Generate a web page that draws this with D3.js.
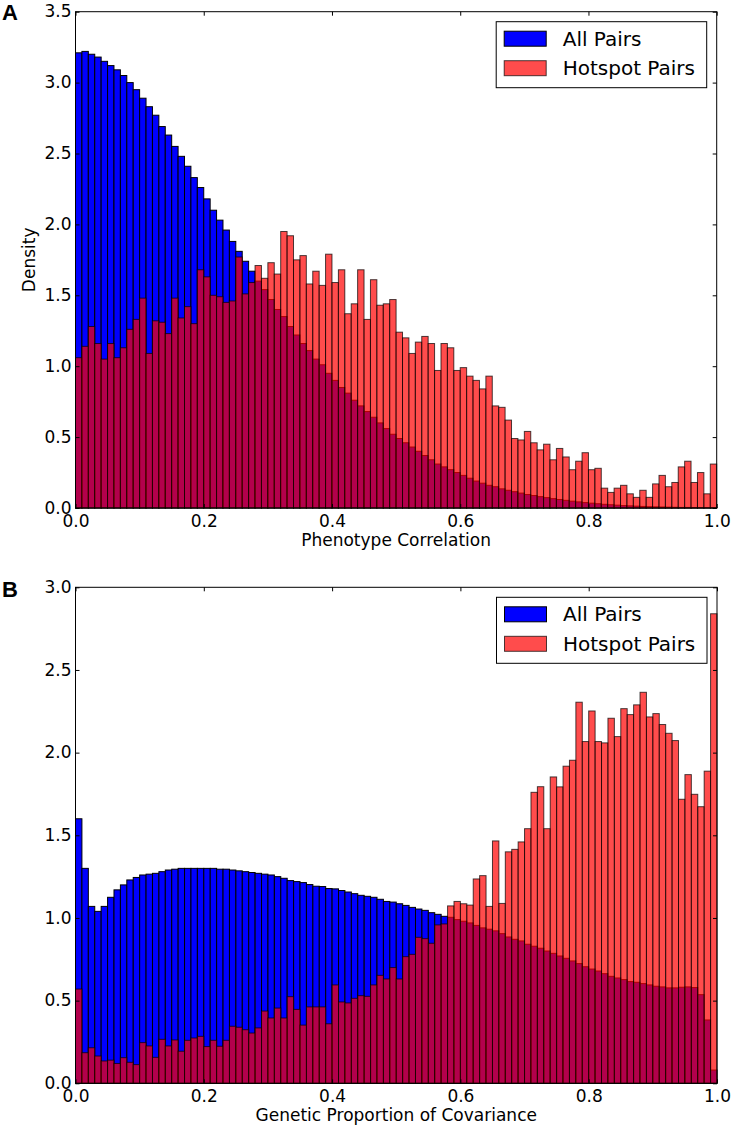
<!DOCTYPE html>
<html>
<head>
<meta charset="utf-8">
<script src="https://cdn.jsdelivr.net/npm/d3@7"></script>
<style>
  html, body { margin: 0; padding: 0; background: #fff; }
  svg { display: block; }
  text { font-family: "DejaVu Sans", sans-serif; fill: #000; }
</style>
</head>
<body>
<svg id="chart" width="733" height="1128"></svg>
<script>
// ---------------- DATA ----------------
const seriesNames = ["All Pairs", "Hotspot Pairs"];
const binWidth = 0.01;
const binLefts = d3.range(100).map(i => +(i * binWidth).toFixed(2));

// Panel A: Phenotype Correlation densities
const phenoAll = [
  3.21, 3.22, 3.20, 3.18, 3.15, 3.12, 3.09, 3.05, 3.00, 2.95,
  2.89, 2.83, 2.77, 2.69, 2.63, 2.55, 2.48, 2.41, 2.33, 2.26,
  2.18, 2.10, 2.03, 1.96, 1.88, 1.81, 1.74, 1.67, 1.60, 1.54,
  1.47, 1.40, 1.35, 1.28, 1.22, 1.16, 1.11, 1.05, 1.01, 0.95,
  0.90, 0.85, 0.81, 0.76, 0.72, 0.68, 0.64, 0.60, 0.56, 0.52,
  0.49, 0.46, 0.43, 0.40, 0.37, 0.34, 0.31, 0.29, 0.27, 0.25,
  0.23, 0.21, 0.19, 0.175, 0.16, 0.15, 0.135, 0.125, 0.115, 0.105,
  0.095, 0.088, 0.08, 0.073, 0.066, 0.06, 0.054, 0.048, 0.043, 0.038,
  0.034, 0.030, 0.026, 0.023, 0.020, 0.017, 0.015, 0.013, 0.011, 0.009,
  0.008, 0.007, 0.006, 0.005, 0.004, 0.004, 0.003, 0.003, 0.002, 0.002
];
const phenoHotspot = [
  1.06, 1.14, 1.28, 1.16, 1.05, 1.16, 1.06, 1.13, 1.26, 1.33,
  1.48, 1.09, 1.32, 1.31, 1.23, 1.48, 1.34, 1.42, 1.30, 1.68,
  1.63, 1.50, 1.49, 1.45, 1.46, 1.77, 1.51, 1.59, 1.71, 1.62,
  1.73, 1.65, 1.95, 1.92, 1.75, 1.78, 1.58, 1.67, 1.57, 1.79,
  1.59, 1.68, 1.37, 1.44, 1.68, 1.33, 1.61, 1.43, 1.44, 1.47,
  1.24, 1.20, 1.09, 1.17, 1.21, 1.16, 0.97, 1.16, 1.13, 0.97,
  0.99, 0.93, 0.90, 0.84, 0.93, 0.72, 0.71, 0.62, 0.49, 0.48,
  0.54, 0.46, 0.41, 0.45, 0.34, 0.42, 0.36, 0.27, 0.33, 0.39,
  0.27, 0.28, 0.14, 0.11, 0.14, 0.16, 0.10, 0.075, 0.125, 0.075,
  0.17, 0.23, 0.15, 0.18, 0.29, 0.33, 0.18, 0.25, 0.10, 0.31
];

// Panel B: Genetic Proportion of Covariance densities
const geneticAll = [
  1.60, 1.30, 1.07, 1.04, 1.07, 1.125, 1.17, 1.20, 1.23, 1.245,
  1.26, 1.265, 1.27, 1.28, 1.29, 1.295, 1.30, 1.30, 1.30, 1.30,
  1.30, 1.30, 1.295, 1.295, 1.29, 1.285, 1.28, 1.275, 1.27, 1.265,
  1.26, 1.25, 1.24, 1.226, 1.22, 1.214, 1.202, 1.192, 1.19, 1.178,
  1.176, 1.166, 1.157, 1.147, 1.137, 1.131, 1.125, 1.113, 1.10, 1.096,
  1.086, 1.076, 1.064, 1.054, 1.046, 1.032, 1.022, 1.01, 1.004, 0.99,
  0.98, 0.97, 0.955, 0.94, 0.932, 0.922, 0.905, 0.885, 0.871, 0.861,
  0.841, 0.829, 0.817, 0.80, 0.786, 0.77, 0.756, 0.74, 0.724, 0.705,
  0.691, 0.679, 0.663, 0.647, 0.637, 0.627, 0.615, 0.611, 0.603, 0.595,
  0.587, 0.583, 0.577, 0.577, 0.581, 0.583, 0.579, 0.536, 0.383, 0.08
];
const geneticHotspot = [
  0.57, 0.185, 0.215, 0.165, 0.135, 0.14, 0.12, 0.155, 0.127, 0.113,
  0.246, 0.226, 0.157, 0.266, 0.226, 0.262, 0.194, 0.26, 0.274, 0.284,
  0.222, 0.26, 0.224, 0.26, 0.345, 0.339, 0.324, 0.304, 0.335, 0.437,
  0.395, 0.455, 0.395, 0.524, 0.447, 0.352, 0.462, 0.462, 0.462, 0.36,
  0.595, 0.492, 0.486, 0.514, 0.53, 0.526, 0.595, 0.653, 0.631, 0.70,
  0.631, 0.766, 0.78, 0.883, 0.875, 0.847, 0.958, 0.964, 1.073, 1.10,
  1.086, 1.078, 1.236, 1.256, 1.07, 1.466, 1.088, 1.40, 1.415, 1.46,
  1.54, 1.76, 1.794, 1.54, 1.853, 1.793, 1.918, 1.954, 2.305, 2.067,
  2.252, 2.067, 2.059, 2.208, 2.097, 2.266, 2.23, 2.289, 2.365, 2.216,
  2.236, 2.17, 2.117, 2.073, 1.718, 1.867, 1.748, 1.673, 1.888, 2.84
];

const xTicks = [0.0, 0.2, 0.4, 0.6, 0.8, 1.0];
const yTicksA = [0.0, 0.5, 1.0, 1.5, 2.0, 2.5, 3.0, 3.5];
const yTicksB = [0.0, 0.5, 1.0, 1.5, 2.0, 2.5, 3.0];

// ---------------- DRAW ----------------
const svg = d3.select("#chart");

const panels = [
  { letter: "A", all: phenoAll, hot: phenoHotspot, yMax: 3.5, yTicks: yTicksA,
    xLabel: "Phenotype Correlation", yLabel: "Density",
    left: 75.5, right: 716.7, top: 11.7, bottom: 508, letterY: 20 },
  { letter: "B", all: geneticAll, hot: geneticHotspot, yMax: 3.0, yTicks: yTicksB,
    xLabel: "Genetic Proportion of Covariance", yLabel: null,
    left: 75.5, right: 717, top: 587.3, bottom: 1083.3, letterY: 597 }
];

const fmt = d3.format(".1f");

panels.forEach(p => {
  const x = d3.scaleLinear().domain([0, 1]).range([p.left, p.right]);
  const y = d3.scaleLinear().domain([0, p.yMax]).range([p.bottom, p.top]);
  const g = svg.append("g");

  // Blue bars (All Pairs)
  g.append("g").selectAll("rect").data(p.all).join("rect")
    .attr("x", (d, i) => x(binLefts[i]))
    .attr("width", (d, i) => x(binLefts[i] + binWidth) - x(binLefts[i]))
    .attr("y", d => y(d))
    .attr("height", d => y(0) - y(d))
    .attr("fill", "#0000ff")
    .attr("stroke", "#000")
    .attr("stroke-width", 1);

  // Red bars (Hotspot Pairs), alpha 0.7
  g.append("g").selectAll("rect").data(p.hot).join("rect")
    .attr("x", (d, i) => x(binLefts[i]))
    .attr("width", (d, i) => x(binLefts[i] + binWidth) - x(binLefts[i]))
    .attr("y", d => y(d))
    .attr("height", d => y(0) - y(d))
    .attr("fill", "#ff0000")
    .attr("fill-opacity", 0.7)
    .attr("stroke", "#000")
    .attr("stroke-opacity", 0.7)
    .attr("stroke-width", 1);

  // Axes (ticks inside on all four sides)
  const axL = g.append("g").attr("transform", `translate(${p.left},0)`)
    .call(d3.axisLeft(y).tickValues(p.yTicks).tickFormat(fmt).tickSizeInner(-4).tickSizeOuter(0).tickPadding(4));
  const axR = g.append("g").attr("transform", `translate(${p.right},0)`)
    .call(d3.axisRight(y).tickValues(p.yTicks).tickFormat("").tickSizeInner(-4).tickSizeOuter(0));
  const axB = g.append("g").attr("transform", `translate(0,${p.bottom})`)
    .call(d3.axisBottom(x).tickValues(xTicks).tickFormat(fmt).tickSizeInner(-4).tickSizeOuter(0).tickPadding(7));
  const axT = g.append("g").attr("transform", `translate(0,${p.top})`)
    .call(d3.axisTop(x).tickValues(xTicks).tickFormat("").tickSizeInner(-4).tickSizeOuter(0));
  [axL, axR, axB, axT].forEach(a => {
    a.select(".domain").remove();
    a.selectAll("line").attr("stroke", "#000").attr("stroke-width", 1);
    a.selectAll("text").style("font-family", "'DejaVu Sans', sans-serif").style("font-size", "17px").attr("fill", "#000");
  });
  axB.selectAll("text").attr("dy", "0.71em");
  axL.selectAll("text").attr("dy", "0.3em");

  // Frame
  g.append("rect")
    .attr("x", p.left).attr("y", p.top)
    .attr("width", p.right - p.left).attr("height", p.bottom - p.top)
    .attr("fill", "none").attr("stroke", "#000").attr("stroke-width", 1);

  // Labels
  g.append("text")
    .attr("x", (p.left + p.right) / 2).attr("y", p.bottom + 38)
    .attr("text-anchor", "middle").style("font-size", "17px")
    .text(p.xLabel);
  if (p.yLabel) {
    g.append("text")
      .attr("transform", `translate(35,${(p.top + p.bottom) / 2}) rotate(-90)`)
      .attr("text-anchor", "middle").style("font-size", "17px")
      .text(p.yLabel);
  }
  g.append("text")
    .attr("x", 2).attr("y", p.letterY)
    .style("font-family", "'Liberation Sans', Arial, sans-serif")
    .style("font-weight", "bold").style("font-size", "22px")
    .text(p.letter);

  // Legend
  const lw = 210.5, lh = 66;
  const lx = p.right - 10 - lw, ly = p.top + 10;
  const lg = g.append("g").attr("transform", `translate(${lx},${ly})`);
  lg.append("rect").attr("width", lw).attr("height", lh)
    .attr("fill", "#fff").attr("stroke", "#000").attr("stroke-width", 1);
  const legendStyles = [
    { fill: "#0000ff", fo: 1, so: 1 },
    { fill: "#ff0000", fo: 0.7, so: 0.7 }
  ];
  seriesNames.forEach((name, i) => {
    const yy = 9.5 + i * 29.5;
    lg.append("rect").attr("x", 8).attr("y", yy).attr("width", 42).attr("height", 15)
      .attr("fill", legendStyles[i].fill).attr("fill-opacity", legendStyles[i].fo)
      .attr("stroke", "#000").attr("stroke-opacity", legendStyles[i].so).attr("stroke-width", 1);
    lg.append("text").attr("x", 66.5).attr("y", yy + 14.5)
      .style("font-size", "20px").text(name);
  });
});
</script>
</body>
</html>
